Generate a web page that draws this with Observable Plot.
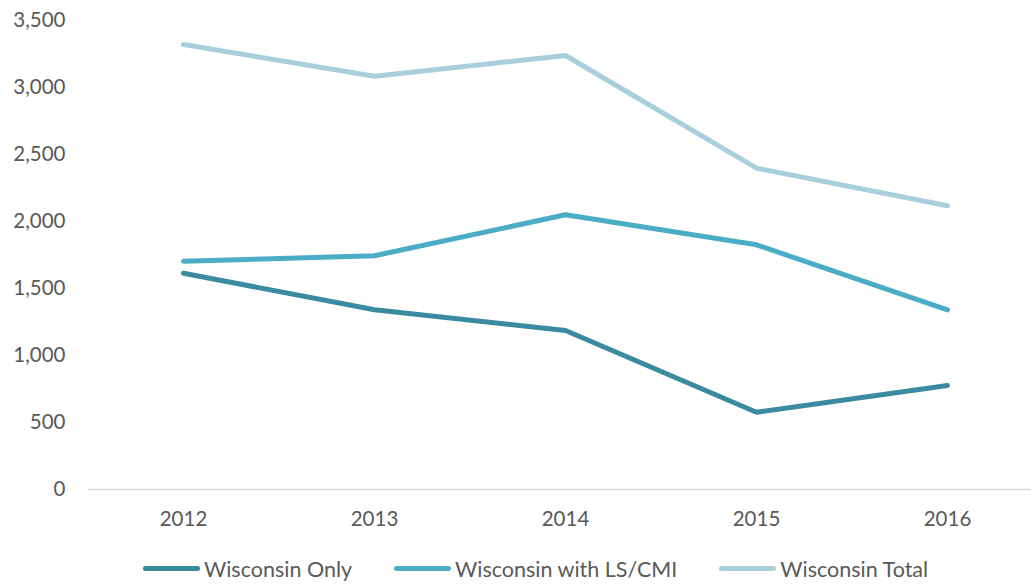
<!DOCTYPE html>
<html>
<head>
<meta charset="utf-8">
<script src="https://cdn.jsdelivr.net/npm/d3@7"></script>
<script src="https://cdn.jsdelivr.net/npm/@observablehq/plot@0.6"></script>
<style>
  html, body { margin: 0; padding: 0; background: #fff; }
  body { width: 1031px; height: 587px; overflow: hidden; font-family: Lato, "Open Sans", sans-serif; }
  #legend { display: flex; align-items: center; height: 37px; padding-left: 143px; gap: 42px; font-size: 21.5px; color: #595959; }
  .item { display: flex; align-items: center; gap: 4px; }
  .sw { width: 57px; height: 5px; border-radius: 3px; }
</style>
</head>
<body>
<div id="chart"></div>
<div id="legend"></div>
<script>
const years = ["2012", "2013", "2014", "2015", "2016"];
const seriesNames = ["Wisconsin Only", "Wisconsin with LS/CMI", "Wisconsin Total"];
const wisconsinOnly = [1614, 1341, 1187, 577, 776];
const wisconsinWithLSCMI = [1704, 1744, 2050, 1826, 1341];
const wisconsinTotal = [3321, 3084, 3239, 2398, 2117];
const colors = ["#3a8ba0", "#4bacc6", "#a9cfdc"];
const yTicks = [0, 500, 1000, 1500, 2000, 2500, 3000, 3500];

const valuesBySeries = [wisconsinOnly, wisconsinWithLSCMI, wisconsinTotal];
const data = [];
seriesNames.forEach((s, i) => years.forEach((y, j) => data.push({series: s, year: y, value: valuesBySeries[i][j]})));

const plot = Plot.plot({
  width: 1031,
  height: 550,
  marginLeft: 88,
  marginRight: 0,
  marginTop: 20,
  marginBottom: 61,
  style: {fontFamily: "Lato, 'Open Sans', sans-serif", fontSize: "20.5px", color: "#595959", background: "#fff"},
  x: {type: "point", domain: years, range: [183, 947], padding: 0, label: null, tickSize: 0, tickPadding: 22},
  y: {domain: [0, 3500], ticks: yTicks, tickFormat: d3.format(","), label: null, tickSize: 0, tickPadding: 23},
  color: {domain: seriesNames, range: colors},
  marks: [
    Plot.ruleY([0], {stroke: "#d9d9d9", strokeWidth: 1.5}),
    Plot.lineY(data, {x: "year", y: "value", z: "series", stroke: "series", strokeWidth: 5, strokeLinecap: "round", strokeLinejoin: "round"})
  ]
});
document.getElementById("chart").appendChild(plot);

const legend = document.getElementById("legend");
seriesNames.forEach((s, i) => {
  const item = document.createElement("div");
  item.className = "item";
  const sw = document.createElement("span");
  sw.className = "sw";
  sw.style.background = colors[i];
  const t = document.createElement("span");
  t.textContent = s;
  item.appendChild(sw);
  item.appendChild(t);
  legend.appendChild(item);
});
</script>
</body>
</html>
